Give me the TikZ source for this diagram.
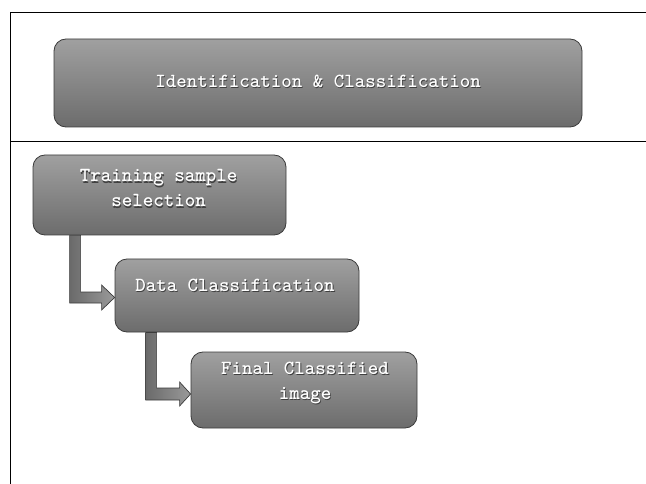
\documentclass[tikz,border=0pt]{standalone}
\usepackage{fontspec}
\newfontfamily\courfont{Latin Modern Mono Light}
\usetikzlibrary{calc}
\definecolor{boxtop}{HTML}{A0A0A0}
\definecolor{boxbot}{HTML}{6C6C6C}
\definecolor{edgec}{HTML}{3A3A3A}
\definecolor{arrl}{HTML}{6A6A6A}
\definecolor{arrr}{HTML}{9A9A9A}
\newcommand\shtxt[1]{\makebox[0pt]{\raisebox{-1.2pt}{\hspace{1.6pt}\textcolor{black!75}{#1}}}\makebox[0pt]{#1}}
\tikzset{
  stepbox/.style={draw=edgec, line width=0.8pt, rounded corners=12pt,
    top color=boxtop, bottom color=boxbot, inner sep=0pt},
  lbl/.style={text=white, font=\courfont\bfseries\fontsize{20}{25}\selectfont, inner sep=0pt, align=center},
  blockarrow/.style={draw=edgec, line width=0.7pt, left color=arrl, right color=arrr},
  frameline/.style={draw=black, line width=0.8pt}
}
\begin{document}
\begin{tikzpicture}[x=1pt,y=1pt]
\useasboundingbox (0,0) rectangle (646,-484);
% frame
\coordinate (ftl) at (10,-12);
\coordinate (ftr) at (646,-12);
\coordinate (fbl) at (10,-484);
\coordinate (fml) at (10,-141);
\coordinate (fmr) at (646,-141);
\draw[frameline] (ftr) -- (ftl) -- (fbl);
\draw[frameline] (fml) -- (fmr);
% boxes
\node[stepbox, minimum width=528, minimum height=88] (idc) at (318,-83) {};
\node[stepbox, minimum width=253, minimum height=80] (train) at (159.5,-195) {};
\node[stepbox, minimum width=244, minimum height=73] (data) at (237,-295.5) {};
\node[stepbox, minimum width=226, minimum height=76] (final) at (304,-390) {};
% labels
\node[lbl] (t1) at (318,-82) {\shtxt{Identification \& Classification}};
\node[lbl] (t2) at (158.5,-189) {\shtxt{Training sample}\\\shtxt{selection}};
\node[lbl] (t3) at (235,-286) {\shtxt{Data Classification}};
\node[lbl] (t4) at (305,-383.5) {\shtxt{Final Classified}\\\shtxt{image}};
% arrow 1 : train -> data
\draw[blockarrow]
  ($(train.south west)+(37,0)$) -- ($(train.south west)+(48,0)$)
  -- ($(data.west)+(-34,3.5)$) -- ($(data.west)+(-13,3.5)$)
  -- ($(data.west)+(-13,10.5)$) -- ($(data.west)+(0,-2)$)
  -- ($(data.west)+(-13,-14.5)$) -- ($(data.west)+(-13,-7.5)$)
  -- ($(data.west)+(-45,-7.5)$) -- cycle;
% arrow 2 : data -> final
\draw[blockarrow]
  ($(data.south west)+(31,0)$) -- ($(data.south west)+(42,0)$)
  -- ($(final.west)+(-34,2)$) -- ($(final.west)+(-11,2)$)
  -- ($(final.west)+(-11,8)$) -- ($(final.west)+(0,-4)$)
  -- ($(final.west)+(-11,-16)$) -- ($(final.west)+(-11,-10)$)
  -- ($(final.west)+(-45,-10)$) -- cycle;
\end{tikzpicture}
\end{document}
